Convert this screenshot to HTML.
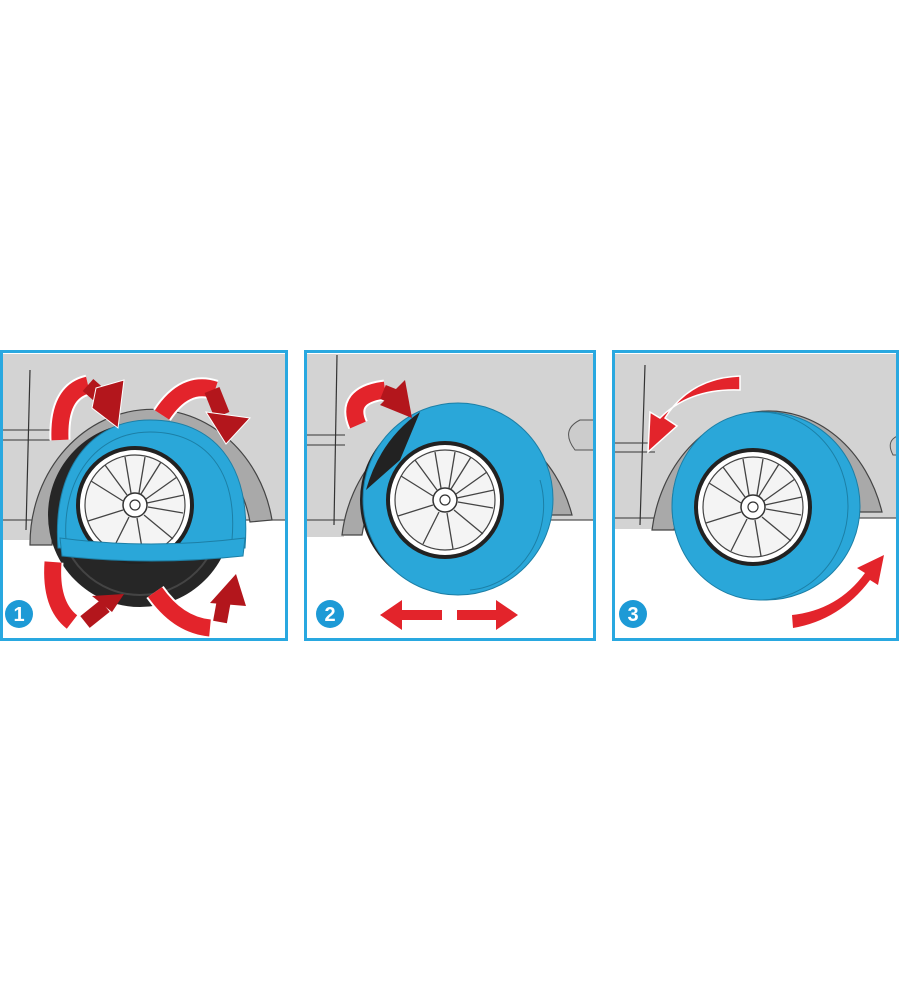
<!DOCTYPE html>
<html><head><meta charset="utf-8"><style>html,body{margin:0;padding:0;background:#fff}svg{display:block}</style></head><body>
<svg width="900" height="1000" viewBox="0 0 900 1000" xmlns="http://www.w3.org/2000/svg">
<defs>
<g id="rim">
<circle r="57" fill="#fff" stroke="#222" stroke-width="4"/>
<circle r="50" fill="#f4f4f4" stroke="#444" stroke-width="1.2"/>
<g stroke="#444" stroke-width="1.3" fill="none">
<path d="M-4,-12 L-10,-48 M4,-12 L10,-48 M11,-6 L42,-28 M13,2 L48,8 M9,10 L38,34 M2,13 L8,49 M-6,12 L-22,44 M-12,5 L-47,16 M-12,-4 L-44,-24 M-8,-10 L-30,-40 M6,-11 L26,-43 M12,-2 L49,-10"/>
</g>
<circle r="12" fill="#fff" stroke="#333" stroke-width="1.5"/>
<circle r="5" fill="#fff" stroke="#333" stroke-width="1.2"/>
</g>
<clipPath id="c1"><rect x="3" y="354" width="282" height="285"/></clipPath>
<clipPath id="c2"><rect x="307" y="354" width="286" height="285"/></clipPath>
<clipPath id="c3"><rect x="615" y="354" width="282" height="285"/></clipPath>
</defs>

<!-- Panel 1 -->
<g clip-path="url(#c1)">
<rect x="0" y="350" width="290" height="295" fill="#fff"/>
<path d="M0,350 H290 V520 H0 Z" fill="#d3d3d3"/>
<path d="M0,540 H40 L40,520 H0Z" fill="#d3d3d3"/>
<path d="M0,430 H50 M0,440 H50 M0,520 H290" stroke="#555" stroke-width="1.2"/>
<path d="M30,370 L26,530" stroke="#333" stroke-width="1.2"/>
<path d="M30,545 A122,135 0 0 1 272,520 L250,522 A100,115 0 0 0 52,545Z" fill="#a9a9a9" stroke="#444" stroke-width="1.2"/>
<circle cx="140" cy="515" r="92" fill="#262626"/>
<circle cx="140" cy="515" r="80" fill="none" stroke="#444" stroke-width="2"/>
<path d="M58,548 C52,470 90,420 150,420 C212,420 252,462 245,548Z" fill="#2aa7d9" stroke="#1c7fa6" stroke-width="1"/>
<path d="M66,540 C62,480 95,432 150,432 C205,432 238,470 232,540" fill="none" stroke="#1c7fa6"/>
<use href="#rim" x="135" y="505"/>
<path d="M60,538 Q150,550 245,538 L243,556 Q150,566 62,556Z" fill="#2aa7d9" stroke="#1c7fa6"/>
<g fill="none" stroke-linecap="butt">
<path d="M60,440 Q58,392 88,385" stroke="#fff" stroke-width="21"/>
<path d="M60,440 Q58,392 88,385" stroke="#e3242b" stroke-width="17"/>
<path d="M88,385 L105,400" stroke="#b3161c" stroke-width="16"/>
<path d="M162,415 Q185,380 215,390" stroke="#fff" stroke-width="21"/>
<path d="M162,415 Q185,380 215,390" stroke="#e3242b" stroke-width="17"/>
<path d="M212,390 L222,415" stroke="#b3161c" stroke-width="16"/>
<path d="M53,562 Q50,605 72,622" stroke="#fff" stroke-width="21"/>
<path d="M53,562 Q50,605 72,622" stroke="#e3242b" stroke-width="17"/>
<path d="M85,622 L105,606" stroke="#b3161c" stroke-width="15"/>
<path d="M155,592 Q178,625 210,628" stroke="#fff" stroke-width="21"/>
<path d="M155,592 Q178,625 210,628" stroke="#e3242b" stroke-width="17"/>
<path d="M220,622 L224,600" stroke="#b3161c" stroke-width="14"/>
</g>
<path d="M96,388 L124,380 L118,428 L92,408Z" fill="#b3161c" stroke="#fff" stroke-width="1"/>
<path d="M206,412 L250,418 L226,444Z" fill="#b3161c" stroke="#fff" stroke-width="1"/>
<path d="M92,596 L124,594 L112,612Z" fill="#b3161c"/>
<path d="M210,603 L236,574 L246,606Z" fill="#b3161c"/>
</g>
<rect x="1.5" y="351.5" width="285" height="288" fill="none" stroke="#29a8e0" stroke-width="3"/>
<circle cx="19" cy="614" r="14" fill="#1d9ad6"/>
<text x="19" y="621" text-anchor="middle" font-family="Liberation Sans, sans-serif" font-weight="bold" font-size="20" fill="#fff">1</text>

<!-- Panel 2 -->
<g clip-path="url(#c2)">
<rect x="304" y="350" width="292" height="295" fill="#fff"/>
<rect x="304" y="350" width="292" height="170" fill="#d3d3d3"/>
<rect x="304" y="515" width="40" height="22" fill="#d3d3d3"/>
<path d="M304,435 H345 M304,445 H345 M304,520 H596" stroke="#555" stroke-width="1.2"/>
<path d="M337,355 L334,525" stroke="#333" stroke-width="1.2"/>
<path d="M342,535 A118,135 0 0 1 572,515 L550,515 A98,115 0 0 0 362,535Z" fill="#a9a9a9" stroke="#444" stroke-width="1.2"/>
<path d="M580,420 Q560,430 575,450 H596 V420Z" fill="#ccc" stroke="#555"/>
<circle cx="450" cy="500" r="90" fill="#222"/>
<ellipse cx="458" cy="499" rx="95" ry="96" fill="#2aa7d9" stroke="#1c7fa6"/>
<path d="M366,490 Q380,440 420,412 L400,460 Z" fill="#222"/>
<use href="#rim" x="445" y="500"/>
<path d="M540,480 A80,85 0 0 1 470,590" stroke="#1c7fa6" fill="none"/>
<g fill="none">
<path d="M358,425 Q345,395 385,390" stroke="#fff" stroke-width="21"/>
<path d="M358,425 Q345,395 385,390" stroke="#e3242b" stroke-width="17"/>
<path d="M383,392 L398,398" stroke="#b3161c" stroke-width="15"/>
</g>
<path d="M380,405 L405,380 L412,418Z" fill="#b3161c"/>
<path d="M380,615 L402,600 V610 H442 V620 H402 V630Z" fill="#e3242b"/>
<path d="M518,615 L496,600 V610 H457 V620 H496 V630Z" fill="#e3242b"/>
</g>
<rect x="305.5" y="351.5" width="289" height="288" fill="none" stroke="#29a8e0" stroke-width="3"/>
<circle cx="330" cy="614" r="14" fill="#1d9ad6"/>
<text x="330" y="621" text-anchor="middle" font-family="Liberation Sans, sans-serif" font-weight="bold" font-size="20" fill="#fff">2</text>

<!-- Panel 3 -->
<g clip-path="url(#c3)">
<rect x="612" y="350" width="290" height="295" fill="#fff"/>
<rect x="612" y="350" width="290" height="168" fill="#d3d3d3"/>
<rect x="612" y="515" width="45" height="14" fill="#d3d3d3"/>
<path d="M612,443 H655 M612,452 H655 M612,518 H900" stroke="#555" stroke-width="1.2"/>
<path d="M645,365 L640,525" stroke="#333" stroke-width="1.2"/>
<path d="M652,530 A118,140 0 0 1 882,512 L860,512 A98,120 0 0 0 674,530Z" fill="#a9a9a9" stroke="#444" stroke-width="1.2"/>
<path d="M900,435 Q885,440 893,455 H900Z" fill="#ccc" stroke="#555"/>
<ellipse cx="766" cy="506" rx="94" ry="94" fill="#2aa7d9" stroke="#1c7fa6"/>
<ellipse cx="760" cy="506" rx="88" ry="94" fill="#2aa7d9" stroke="#1c7fa6"/>
<use href="#rim" x="753" y="507"/>
<path d="M740,376 Q690,378 665,418 L677,426 L648,452 L650,412 L660,418 Q690,388 740,390Z" fill="#e3242b" stroke="#fff" stroke-width="1.5"/>
<path d="M793,628 Q840,620 870,580 L878,585 L884,555 L857,568 L865,573 Q838,610 792,615Z" fill="#e3242b"/>
</g>
<rect x="613.5" y="351.5" width="284" height="288" fill="none" stroke="#29a8e0" stroke-width="3"/>
<circle cx="633" cy="614" r="14" fill="#1d9ad6"/>
<text x="633" y="621" text-anchor="middle" font-family="Liberation Sans, sans-serif" font-weight="bold" font-size="20" fill="#fff">3</text>
</svg>
</body></html>
